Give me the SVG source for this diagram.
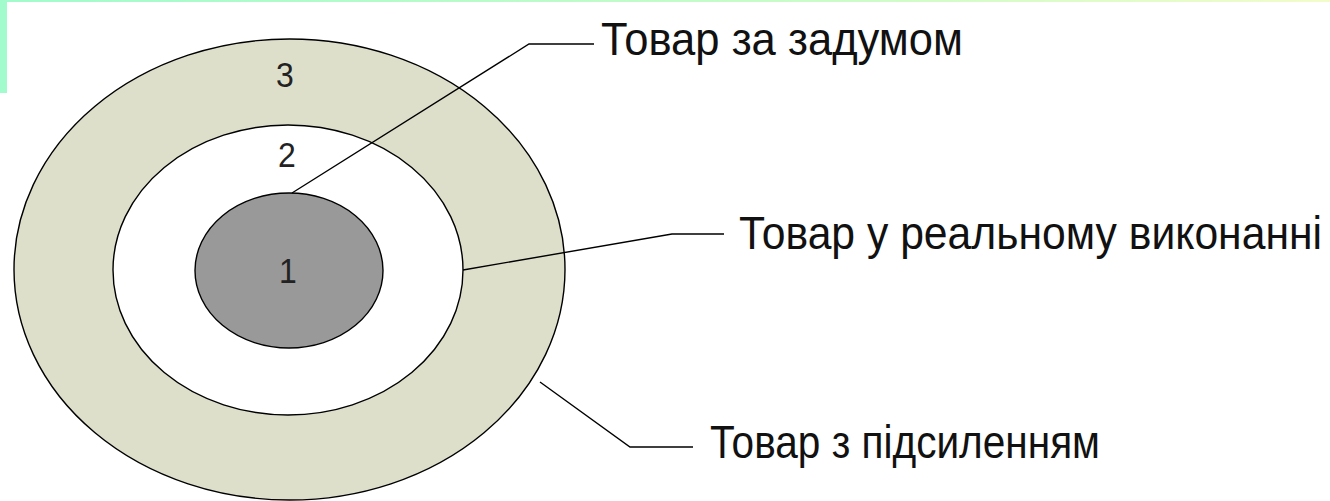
<svg xmlns="http://www.w3.org/2000/svg" width="1330" height="501" viewBox="0 0 1330 501">
<defs>
<linearGradient id="band" x1="0" y1="0" x2="1" y2="0">
<stop offset="0" stop-color="#a2fbcc"/>
<stop offset="0.6" stop-color="#c8fcc8"/>
<stop offset="1" stop-color="#f2fcca"/>
</linearGradient>
<style>
.ring{stroke:#000;stroke-width:1.4}
.num{font-family:"Liberation Sans",Arial,sans-serif;font-size:32px;fill:#222;text-anchor:middle}
.lbl{font-family:"Liberation Sans",Arial,sans-serif;font-size:40px;fill:#111}
.lead{fill:none;stroke:#000;stroke-width:1.4}
</style>
</defs>
<rect x="0" y="0" width="1330" height="501" fill="#fff"/>
<rect x="0" y="0" width="1330" height="2" fill="url(#band)"/>
<rect x="0" y="0" width="7" height="93" fill="#a2fbcc"/>
<g id="ring3"><ellipse class="ring" cx="289.5" cy="269.5" rx="275.5" ry="230.5" fill="#dedfcb"/><text class="num" transform="translate(285,87) scale(1,1.12)">3</text></g>
<g id="ring2"><ellipse class="ring" cx="288" cy="270" rx="175" ry="145" fill="#fff"/><text class="num" transform="translate(287,167) scale(1,1.12)">2</text></g>
<g id="ring1"><ellipse class="ring" cx="289" cy="270.5" rx="94" ry="77.5" fill="#999"/><text class="num" transform="translate(288,283) scale(1,1.12)">1</text></g>
<g id="connectors">
<polyline class="lead" points="292,193 529,44 594,44"/>
<polyline class="lead" points="463,270 672,234 724,234"/>
<polyline class="lead" points="540,382 630,447 693,447"/>
</g>
<g id="label-1"><text class="lbl" transform="translate(601,55) scale(1,1.15)" textLength="362" lengthAdjust="spacingAndGlyphs">Товар за задумом</text></g>
<g id="label-2"><text class="lbl" transform="translate(739,249) scale(1,1.15)" textLength="583" lengthAdjust="spacingAndGlyphs">Товар у реальному виконанні</text></g>
<g id="label-3"><text class="lbl" transform="translate(710,458) scale(1,1.15)" textLength="390" lengthAdjust="spacingAndGlyphs">Товар з підсиленням</text></g>
</svg>
